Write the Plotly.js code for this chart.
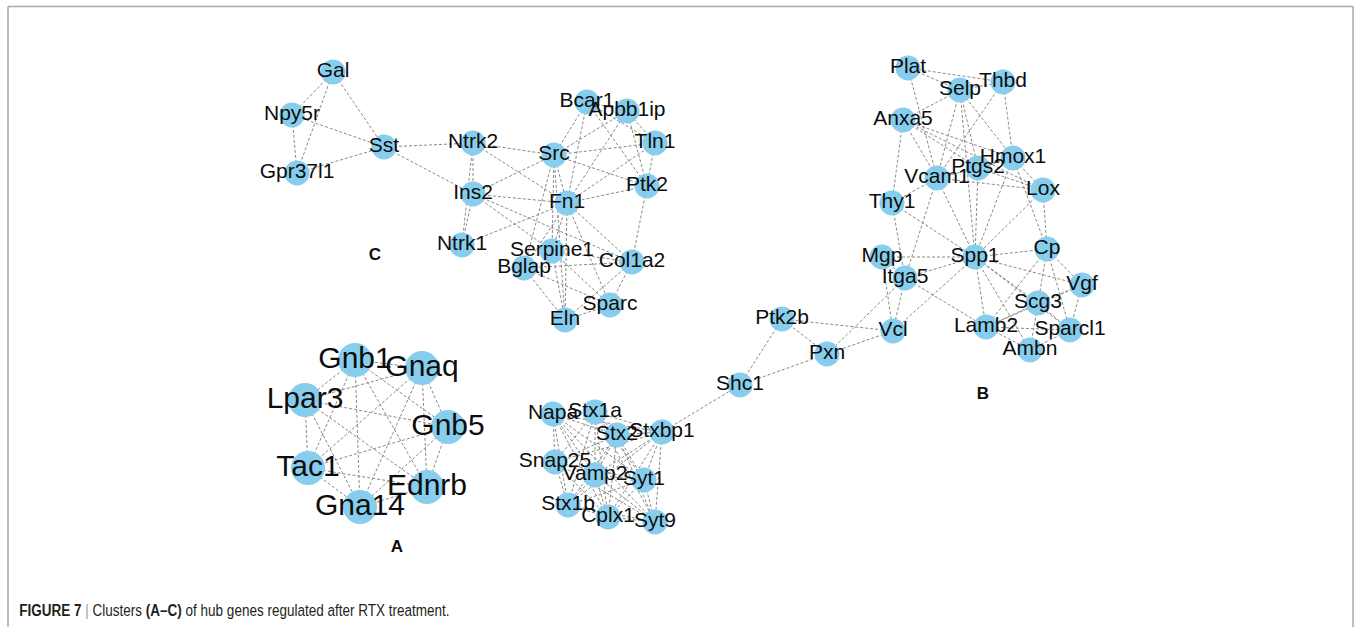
<!DOCTYPE html>
<html>
<head>
<meta charset="utf-8">
<script src="https://cdn.plot.ly/plotly-3.0.1.min.js"></script>
<style>
  html, body { margin: 0; padding: 0; background: #ffffff; }
  #fig { width: 1354px; height: 627px; }
  /* condensed caption face */
  #fig .annotation-text { transform: scaleX(0.795); transform-box: fill-box; transform-origin: 0 50%; }
</style>
</head>
<body>
<div id="fig"></div>
<script>
// ---- Cluster A: G-protein signalling module ----
const clusterA_genes = ["Gnb1", "Gnaq", "Lpar3", "Gnb5", "Tac1", "Ednrb", "Gna14"];
const clusterA_x = [355, 422, 305, 448, 308, 427, 360];
const clusterA_y = [360, 368, 400, 427, 468, 487, 507];
const clusterA_edges = [
  ["Gnb1","Gnaq"],["Gnb1","Lpar3"],["Gnb1","Gnb5"],["Gnb1","Tac1"],["Gnb1","Ednrb"],["Gnb1","Gna14"],
  ["Gnaq","Lpar3"],["Gnaq","Gnb5"],["Gnaq","Tac1"],["Gnaq","Ednrb"],["Gnaq","Gna14"],
  ["Lpar3","Gnb5"],["Lpar3","Tac1"],["Lpar3","Ednrb"],["Lpar3","Gna14"],
  ["Gnb5","Tac1"],["Gnb5","Ednrb"],["Gnb5","Gna14"],
  ["Tac1","Ednrb"],["Tac1","Gna14"],
  ["Ednrb","Gna14"]
];

// ---- Cluster B: extracellular matrix / adhesion module ----
const clusterB_genes = ["Plat","Selp","Thbd","Anxa5","Hmox1","Ptgs2","Vcam1","Lox","Thy1",
  "Mgp","Itga5","Spp1","Cp","Vgf","Scg3","Lamb2","Sparcl1","Ambn","Vcl",
  "Ptk2b","Pxn","Shc1"];
const clusterB_x = [908, 960, 1003, 903, 1013, 978, 937, 1043, 892,
  882, 905, 975, 1047, 1082, 1038, 986, 1070, 1030, 893,
  782, 827, 740];
const clusterB_y = [68, 90, 82, 120, 158, 168, 178, 190, 203,
  257, 278, 257, 249, 285, 303, 327, 330, 350, 331,
  319, 354, 385];
const clusterB_edges = [
  ["Plat","Selp"],["Plat","Thbd"],["Plat","Vcam1"],
  ["Selp","Thbd"],["Selp","Anxa5"],["Selp","Vcam1"],["Selp","Ptgs2"],["Selp","Hmox1"],["Selp","Spp1"],
  ["Thbd","Hmox1"],["Thbd","Vcam1"],
  ["Anxa5","Thy1"],["Anxa5","Vcam1"],["Anxa5","Hmox1"],["Anxa5","Lox"],["Anxa5","Ptgs2"],
  ["Vcam1","Ptgs2"],["Vcam1","Lox"],["Vcam1","Thy1"],["Vcam1","Itga5"],["Vcam1","Spp1"],
  ["Ptgs2","Hmox1"],["Ptgs2","Spp1"],["Ptgs2","Lox"],
  ["Hmox1","Lox"],["Hmox1","Spp1"],["Hmox1","Cp"],
  ["Lox","Cp"],["Lox","Spp1"],
  ["Thy1","Itga5"],["Thy1","Spp1"],
  ["Mgp","Spp1"],["Mgp","Vcl"],["Mgp","Itga5"],
  ["Itga5","Spp1"],["Itga5","Vcl"],["Itga5","Lamb2"],["Itga5","Pxn"],
  ["Spp1","Cp"],["Spp1","Vgf"],["Spp1","Scg3"],["Spp1","Lamb2"],["Spp1","Ambn"],["Spp1","Sparcl1"],["Spp1","Vcl"],
  ["Cp","Vgf"],["Cp","Scg3"],["Cp","Lamb2"],["Cp","Sparcl1"],
  ["Vgf","Scg3"],["Vgf","Sparcl1"],["Vgf","Lamb2"],
  ["Scg3","Lamb2"],["Scg3","Ambn"],["Scg3","Sparcl1"],
  ["Lamb2","Sparcl1"],["Lamb2","Ambn"],
  ["Sparcl1","Ambn"],
  ["Vcl","Pxn"],["Vcl","Ptk2b"],
  ["Pxn","Ptk2b"],["Pxn","Shc1"],
  ["Ptk2b","Shc1"]
];

// ---- Synaptic vesicle module (linked to cluster B through Shc1) ----
const snare_genes = ["Napa","Stx1a","Stx2","Stxbp1","Snap25","Vamp2","Syt1","Stx1b","Cplx1","Syt9"];
const snare_x = [553, 595, 617, 662, 555, 595, 644, 568, 608, 655];
const snare_y = [414, 412, 435, 432, 462, 475, 480, 505, 517, 522];
const snare_edges = [
  ["Napa","Stx1a"],["Napa","Stx2"],["Napa","Stxbp1"],["Napa","Snap25"],["Napa","Vamp2"],["Napa","Syt1"],["Napa","Stx1b"],["Napa","Cplx1"],["Napa","Syt9"],
  ["Stx1a","Stx2"],["Stx1a","Stxbp1"],["Stx1a","Snap25"],["Stx1a","Vamp2"],["Stx1a","Syt1"],["Stx1a","Stx1b"],["Stx1a","Cplx1"],["Stx1a","Syt9"],
  ["Stx2","Stxbp1"],["Stx2","Snap25"],["Stx2","Vamp2"],["Stx2","Syt1"],["Stx2","Stx1b"],["Stx2","Cplx1"],["Stx2","Syt9"],
  ["Stxbp1","Snap25"],["Stxbp1","Vamp2"],["Stxbp1","Syt1"],["Stxbp1","Stx1b"],["Stxbp1","Cplx1"],["Stxbp1","Syt9"],
  ["Snap25","Vamp2"],["Snap25","Syt1"],["Snap25","Stx1b"],["Snap25","Cplx1"],["Snap25","Syt9"],
  ["Vamp2","Syt1"],["Vamp2","Stx1b"],["Vamp2","Cplx1"],["Vamp2","Syt9"],
  ["Syt1","Stx1b"],["Syt1","Cplx1"],["Syt1","Syt9"],
  ["Stx1b","Cplx1"],["Stx1b","Syt9"],
  ["Cplx1","Syt9"],
  ["Stxbp1","Shc1"]
];

// ---- Cluster C: neuropeptide / fibronectin module ----
const clusterC_genes = ["Gal","Npy5r","Gpr37l1","Sst","Ntrk2","Ins2","Ntrk1","Src","Fn1",
  "Bcar1","Apbb1ip","Tln1","Ptk2","Serpine1","Bglap","Col1a2","Sparc","Eln"];
const clusterC_x = [333, 292, 297, 384, 473, 473, 462, 554, 567,
  587, 627, 655, 647, 552, 524, 632, 610, 565];
const clusterC_y = [72, 115, 173, 147, 143, 194, 245, 155, 203,
  102, 111, 143, 186, 251, 268, 262, 305, 320];
const clusterC_edges = [
  ["Gal","Npy5r"],["Gal","Gpr37l1"],["Gal","Sst"],
  ["Npy5r","Gpr37l1"],["Npy5r","Sst"],["Gpr37l1","Sst"],
  ["Sst","Ntrk2"],["Sst","Ins2"],
  ["Ntrk2","Ins2"],["Ntrk2","Ntrk1"],["Ins2","Ntrk1"],
  ["Ntrk2","Src"],["Ntrk2","Fn1"],
  ["Ins2","Src"],["Ins2","Fn1"],["Ins2","Serpine1"],["Ins2","Col1a2"],
  ["Ntrk1","Fn1"],
  ["Src","Bcar1"],["Src","Apbb1ip"],["Src","Tln1"],["Src","Ptk2"],["Src","Fn1"],["Src","Serpine1"],["Src","Bglap"],["Src","Eln"],
  ["Fn1","Bcar1"],["Fn1","Apbb1ip"],["Fn1","Tln1"],["Fn1","Ptk2"],["Fn1","Serpine1"],["Fn1","Bglap"],["Fn1","Col1a2"],["Fn1","Sparc"],["Fn1","Eln"],
  ["Bcar1","Apbb1ip"],["Bcar1","Ptk2"],["Bcar1","Tln1"],
  ["Apbb1ip","Tln1"],["Apbb1ip","Ptk2"],
  ["Tln1","Ptk2"],["Ptk2","Col1a2"],
  ["Serpine1","Eln"],["Serpine1","Sparc"],["Serpine1","Col1a2"],
  ["Bglap","Col1a2"],["Bglap","Eln"],["Bglap","Sparc"],
  ["Col1a2","Sparc"],["Col1a2","Eln"],["Sparc","Eln"]
];

// Panel letters
const panel_labels = ["A", "B", "C"];
const panel_x = [397, 983, 375];
const panel_y = [548, 395, 256];

// ---- build traces ----
const NODE_COLOR = "#87cdee";
const EDGE_COLOR = "#8a8a8a";
const FONT = "Arial, 'Liberation Sans', sans-serif";

function edgeTrace(edges, lookup) {
  const ex = [], ey = [];
  edges.forEach(([a, b]) => {
    const pa = lookup[a], pb = lookup[b];
    ex.push(pa[0], pb[0], null);
    ey.push(pa[1], pb[1], null);
  });
  return {
    type: "scatter", mode: "lines", x: ex, y: ey, hoverinfo: "skip",
    line: { color: EDGE_COLOR, width: 1, dash: "3px,2px" }, showlegend: false
  };
}

const lookup = {};
[[clusterA_genes, clusterA_x, clusterA_y],
 [clusterB_genes, clusterB_x, clusterB_y],
 [snare_genes, snare_x, snare_y],
 [clusterC_genes, clusterC_x, clusterC_y]].forEach(([g, xs, ys]) => {
  g.forEach((name, i) => { lookup[name] = [xs[i], ys[i]]; });
});

const traces = [];
traces.push(edgeTrace(clusterA_edges, lookup));
traces.push(edgeTrace(clusterB_edges, lookup));
traces.push(edgeTrace(snare_edges, lookup));
traces.push(edgeTrace(clusterC_edges, lookup));

// node markers (regular clusters) and the large cluster A
const smallNames = clusterB_genes.concat(snare_genes, clusterC_genes);
const smallX = clusterB_x.concat(snare_x, clusterC_x);
const smallY = clusterB_y.concat(snare_y, clusterC_y);

traces.push({
  type: "scatter", mode: "markers", x: smallX, y: smallY, hoverinfo: "text", text: smallNames,
  marker: { size: 25, color: NODE_COLOR, line: { width: 0 } }, showlegend: false
});
traces.push({
  type: "scatter", mode: "markers", x: clusterA_x, y: clusterA_y, hoverinfo: "text", text: clusterA_genes,
  marker: { size: 34, color: NODE_COLOR, line: { width: 0 } }, showlegend: false
});
// labels drawn above every node
traces.push({
  type: "scatter", mode: "text", x: smallX, y: smallY, text: smallNames, hoverinfo: "skip",
  textposition: "middle center", textfont: { family: FONT, size: 21, color: "#0d0d0d" }, showlegend: false
});
traces.push({
  type: "scatter", mode: "text", x: clusterA_x, y: clusterA_y, text: clusterA_genes, hoverinfo: "skip",
  textposition: "middle center", textfont: { family: FONT, size: 30, color: "#0d0d0d" }, showlegend: false
});
traces.push({
  type: "scatter", mode: "text", x: panel_x, y: panel_y, text: panel_labels.map(t => "<b>" + t + "</b>"),
  hoverinfo: "skip", textposition: "middle center",
  textfont: { family: FONT, size: 17, color: "#0d0d0d" }, showlegend: false
});

const layout = {
  width: 1354, height: 627,
  margin: { l: 0, r: 0, t: 0, b: 0 },
  paper_bgcolor: "#ffffff", plot_bgcolor: "#ffffff",
  xaxis: { range: [0, 1354], visible: false, fixedrange: true },
  yaxis: { range: [627, 0], visible: false, fixedrange: true },
  shapes: [
    { type: "line", xref: "x", yref: "y", x0: 8, x1: 1353, y0: 6.5, y1: 6.5, line: { color: "#a9a9a9", width: 1.5 } },
    { type: "line", xref: "x", yref: "y", x0: 8, x1: 8, y0: 6.5, y1: 627, line: { color: "#a9a9a9", width: 1.5 } },
    { type: "line", xref: "x", yref: "y", x0: 1353, x1: 1353, y0: 6.5, y1: 627, line: { color: "#a9a9a9", width: 1.5 } }
  ],
  annotations: [{
    xref: "x", yref: "y", x: 17, y: 610, xanchor: "left", yanchor: "middle", showarrow: false,
    text: "<b>FIGURE 7</b> <span style='color:#9a9a9a'>|</span> Clusters <b>(A–C)</b> of hub genes regulated after RTX treatment.",
    font: { family: FONT, size: 17, color: "#231f20" }
  }],
  showlegend: false
};

Plotly.newPlot("fig", traces, layout, { displayModeBar: false, staticPlot: true });
</script>
</body>
</html>
